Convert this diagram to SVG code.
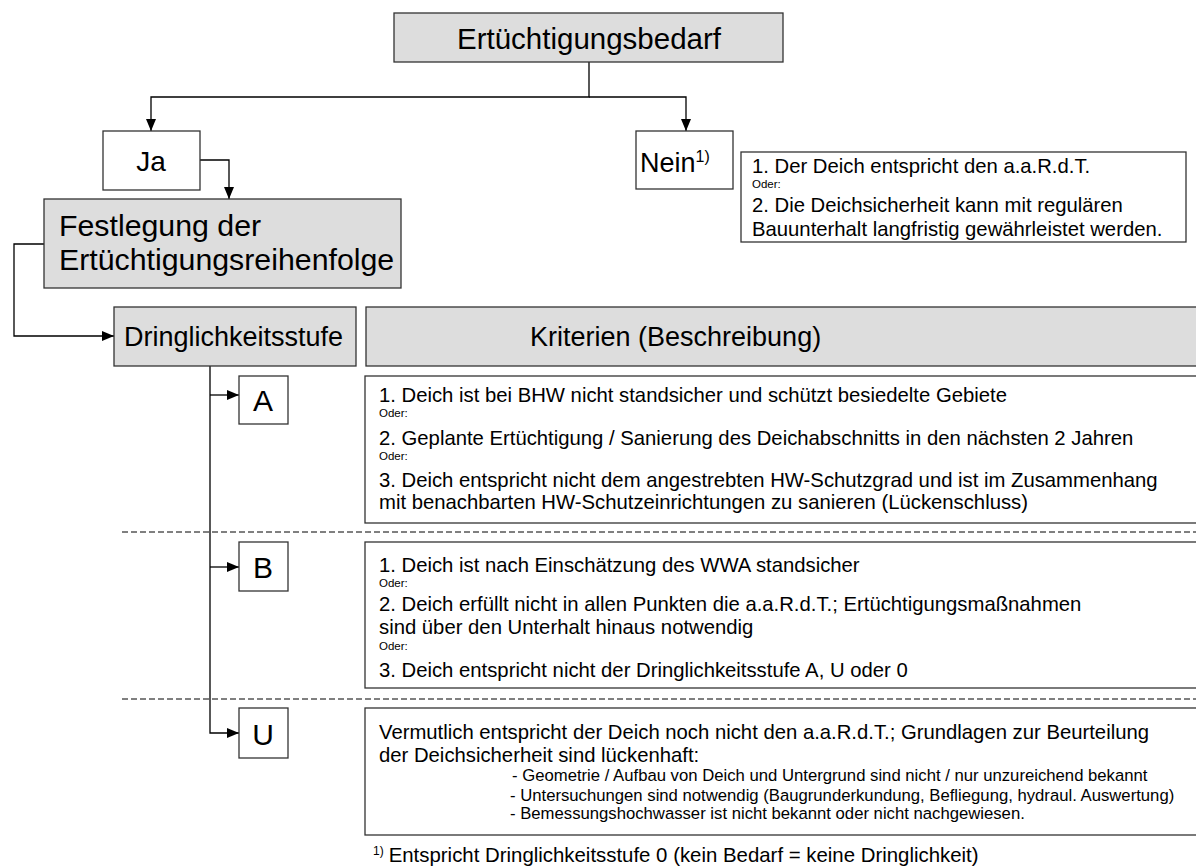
<svg xmlns="http://www.w3.org/2000/svg" width="1196" height="867" viewBox="0 0 1196 867">
  <style>
    text { font-family: "Liberation Sans", Arial, sans-serif; fill: #000; }
    .box { fill: #ffffff; stroke: #333; stroke-width: 1.3; }
    .grey { fill: #dddddd; stroke: #333; stroke-width: 1.3; }
    .conn { fill: none; stroke: #000; stroke-width: 1.3; }
    .dash { fill: none; stroke: #000; stroke-width: 1; stroke-dasharray: 6 3; }
    .big { font-size: 28px; }
    .mid { font-size: 20.3px; }
    .small { font-size: 11.5px; }
    .bul { font-size: 16.7px; }
  </style>
  <defs>
    <marker id="arrow" viewBox="0 0 12 10" refX="12" refY="5" markerWidth="12" markerHeight="10" markerUnits="userSpaceOnUse" orient="auto">
      <path d="M0,0 L12,5 L0,10 z" fill="#000"/>
    </marker>
  </defs>

  <!-- separators between the urgency levels -->
  <line class="dash" x1="122" y1="532" x2="1196" y2="532"/>
  <line class="dash" x1="122" y1="699" x2="1196" y2="699"/>

  <g id="connectors">
    <path class="conn" d="M589,62 V97 H151 V131" marker-end="url(#arrow)"/>
    <path class="conn" d="M589,97 H686 V131" marker-end="url(#arrow)"/>
    <path class="conn" d="M200,160 H229 V199" marker-end="url(#arrow)"/>
    <path class="conn" d="M44,244 H14 V336 H114" marker-end="url(#arrow)"/>
    <path class="conn" d="M210,366 V733 H239" marker-end="url(#arrow)"/>
    <path class="conn" d="M210,395 H239" marker-end="url(#arrow)"/>
    <path class="conn" d="M210,567 H239" marker-end="url(#arrow)"/>
  </g>

  <g id="bedarf">
    <rect class="grey" x="394" y="13" width="389" height="49"/>
    <text x="589" y="49" font-size="29.5" text-anchor="middle">Ertüchtigungsbedarf</text>
  </g>

  <g id="ja">
    <rect class="box" x="103" y="131" width="97" height="59"/>
    <text class="big" x="151" y="171" text-anchor="middle">Ja</text>
  </g>

  <g id="nein">
    <rect class="box" x="636" y="131" width="97" height="58"/>
    <text x="640" y="172" font-size="27">Nein<tspan font-size="16" dy="-10">1)</tspan></text>
  </g>

  <g id="nein-info">
    <rect class="box" x="741" y="152" width="445" height="90"/>
    <text class="mid" x="752" y="173">1.  Der Deich entspricht den a.a.R.d.T.</text>
    <text class="small" x="752" y="188">Oder:</text>
    <text class="mid" x="752" y="212">2. Die Deichsicherheit kann mit regulären</text>
    <text class="mid" x="752" y="236">Bauunterhalt langfristig gewährleistet werden.</text>
  </g>

  <g id="festlegung">
    <rect class="grey" x="44" y="199" width="357" height="89"/>
    <text x="59" y="236" font-size="30.3">Festlegung der</text>
    <text x="59" y="270" font-size="30.3">Ertüchtigungsreihenfolge</text>
  </g>

  <g id="dringlichkeitsstufe">
    <rect class="grey" x="114" y="307" width="242" height="59"/>
    <text x="124" y="346" font-size="27">Dringlichkeitsstufe</text>
  </g>

  <g id="kriterien">
    <rect class="grey" x="366" y="307" width="840" height="59"/>
    <text x="530" y="346" font-size="27">Kriterien (Beschreibung)</text>
  </g>

  <g id="stufe-a">
    <rect class="box" x="239" y="376" width="49" height="48"/>
    <text x="263" y="411" font-size="30" text-anchor="middle">A</text>
  </g>
  <g id="kriterien-a">
    <rect class="box" x="365" y="376" width="841" height="147"/>
    <text class="mid" x="379" y="402">1. Deich ist bei BHW nicht standsicher und schützt besiedelte Gebiete</text>
    <text class="small" x="379" y="417">Oder:</text>
    <text class="mid" x="379" y="445">2. Geplante Ertüchtigung / Sanierung des Deichabschnitts in den nächsten 2 Jahren</text>
    <text class="small" x="379" y="460">Oder:</text>
    <text class="mid" x="379" y="487">3. Deich entspricht nicht dem angestrebten HW-Schutzgrad und ist im Zusammenhang</text>
    <text class="mid" x="379" y="509">mit benachbarten HW-Schutzeinrichtungen zu sanieren (Lückenschluss)</text>
  </g>

  <g id="stufe-b">
    <rect class="box" x="239" y="542" width="49" height="49"/>
    <text x="263" y="578" font-size="30" text-anchor="middle">B</text>
  </g>
  <g id="kriterien-b">
    <rect class="box" x="365" y="542" width="841" height="146"/>
    <text class="mid" x="379" y="572">1. Deich ist nach Einschätzung des WWA standsicher</text>
    <text class="small" x="379" y="587">Oder:</text>
    <text class="mid" x="379" y="611">2. Deich erfüllt nicht in allen Punkten die a.a.R.d.T.; Ertüchtigungsmaßnahmen</text>
    <text class="mid" x="379" y="634">sind über den Unterhalt hinaus notwendig</text>
    <text class="small" x="379" y="650">Oder:</text>
    <text class="mid" x="379" y="677">3. Deich entspricht nicht der Dringlichkeitsstufe A, U oder 0</text>
  </g>

  <g id="stufe-u">
    <rect class="box" x="239" y="708" width="49" height="50"/>
    <text x="263" y="745" font-size="30" text-anchor="middle">U</text>
  </g>
  <g id="kriterien-u">
    <rect class="box" x="365" y="708" width="841" height="127"/>
    <text class="mid" x="379" y="739">Vermutlich entspricht der Deich noch nicht den a.a.R.d.T.; Grundlagen zur Beurteilung</text>
    <text class="mid" x="379" y="762">der Deichsicherheit sind lückenhaft:</text>
    <text class="bul" x="512" y="781">- Geometrie / Aufbau von Deich und Untergrund sind nicht / nur unzureichend bekannt</text>
    <text class="bul" x="510" y="801">- Untersuchungen sind notwendig (Baugrunderkundung, Befliegung, hydraul. Auswertung)</text>
    <text class="bul" x="510" y="819">- Bemessungshochwasser ist nicht bekannt oder nicht nachgewiesen.</text>
  </g>

  <g id="fussnote">
    <text x="373" y="862" font-size="20.4"><tspan font-size="12" dy="-7">1)</tspan><tspan dx="5" dy="7">Entspricht Dringlichkeitsstufe 0 (kein Bedarf = keine Dringlichkeit)</tspan></text>
  </g>
</svg>
